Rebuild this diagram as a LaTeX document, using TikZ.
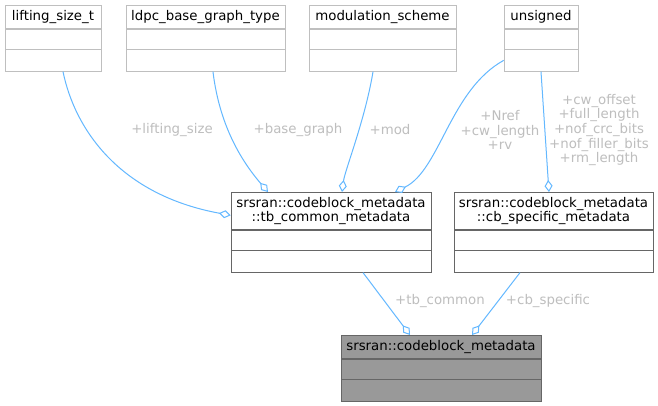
\documentclass[tikz,border=0pt]{standalone}
\usepackage{fontspec}
\setmainfont{DejaVu Sans}
\usetikzlibrary{positioning, arrows.meta}

\definecolor{edgeblue}{HTML}{63B8FF}
\definecolor{lblgray}{HTML}{BEBEBE}
\definecolor{lightframe}{HTML}{BFBFBF}
\definecolor{darkframe}{HTML}{666666}
\definecolor{mainfill}{HTML}{999999}

\begin{document}
\begin{tikzpicture}[
    x=0.75pt, y=-0.75pt,
    cls/.style={rectangle, draw=lightframe, fill=white, inner sep=0pt, font=\fontsize{10}{10.5}\selectfont, align=center, anchor=north},
    lbl/.style={text=lblgray, inner sep=0pt, font=\fontsize{10}{10.9}\selectfont, align=center},
    edge/.style={draw=edgeblue, line width=0.75pt, -{Diamond[open, length=9pt, width=6pt]}}
]
\useasboundingbox[fill=white] (0,0) rectangle (658,405);

% member types
\foreach \nm/\cx/\w/\txt in {lift/53/96/lifting\_size\_t, ldpc/205.5/159/ldpc\_base\_graph\_type, mods/382.5/147/modulation\_scheme, uns/541/74/unsigned} {
    \node[cls, minimum width=\w*0.75pt, minimum height=17.25pt] (\nm) at (\cx,5) {\txt};
    \node[cls, minimum width=\w*0.75pt, minimum height=15pt, below=0pt of \nm] (\nm-a) {};
    \node[cls, minimum width=\w*0.75pt, minimum height=16.5pt, below=0pt of \nm-a] (\nm-b) {};
}

% nested structs
\node[cls, draw=darkframe, minimum width=150pt, minimum height=27.75pt] (tbc) at (331,192) {srsran::codeblock\_metadata\\::tb\_common\_metadata};
\node[cls, draw=darkframe, minimum width=150pt, minimum height=15pt, below=0pt of tbc] (tbc-a) {};
\node[cls, draw=darkframe, minimum width=150pt, minimum height=16.5pt, below=0pt of tbc-a] (tbc-b) {};

\node[cls, draw=darkframe, minimum width=149.25pt, minimum height=27.75pt] (cbs) at (553.5,192) {srsran::codeblock\_metadata\\::cb\_specific\_metadata};
\node[cls, draw=darkframe, minimum width=149.25pt, minimum height=15pt, below=0pt of cbs] (cbs-a) {};
\node[cls, draw=darkframe, minimum width=149.25pt, minimum height=16.5pt, below=0pt of cbs-a] (cbs-b) {};

% main struct
\node[cls, draw=darkframe, fill=mainfill, minimum width=150pt, minimum height=17.25pt] (cbm) at (441,335) {srsran::codeblock\_metadata};
\node[cls, draw=darkframe, fill=mainfill, minimum width=150pt, minimum height=15pt, below=0pt of cbm] (cbm-a) {};
\node[cls, draw=darkframe, fill=mainfill, minimum width=150pt, minimum height=16.5pt, below=0pt of cbm-a] (cbm-b) {};

% aggregation edges
\draw[edge] ([xshift=7.5pt]lift-b.south) .. controls (75,130) and (120,195) .. ([yshift=-3.4pt]tbc.west);
\draw[edge] ([xshift=5.6pt]ldpc-b.south) .. controls (220,130) and (245,165) .. ([xshift=-47.25pt]tbc.north);
\draw[edge] ([xshift=-7.1pt]mods-b.south) .. controls (365,120) and (345,170) .. ([xshift=8.25pt]tbc.north);
\draw[edge] (uns-b.west) .. controls (450,90) and (440,170) .. ([xshift=48pt]tbc.north);
\draw[edge] (uns-b.south) -- ([xshift=-3.4pt]cbs.north);
\draw[edge] ([xshift=24pt]tbc-b.south) -- ([xshift=-23.25pt]cbm.north);
\draw[edge] ([xshift=-25.1pt]cbs-b.south) -- ([xshift=23.25pt]cbm.north);

% edge labels
\node[lbl] (l-lift) at (172,130) {+lifting\_size};
\node[lbl] (l-bg) at (298,130) {+base\_graph};
\node[lbl] (l-mod) at (390,130) {+mod};
\node[lbl] (l-uns) at (500,130) {+Nref\\+cw\_length\\+rv};
\node[lbl] (l-cb) at (599,130) {+cw\_offset\\+full\_length\\+nof\_crc\_bits\\+nof\_filler\_bits\\+rm\_length};
\node[lbl] (l-tbc) at (440,301) {+tb\_common};
\node[lbl] (l-cbs) at (548,301) {+cb\_specific};

\end{tikzpicture}
\end{document}
